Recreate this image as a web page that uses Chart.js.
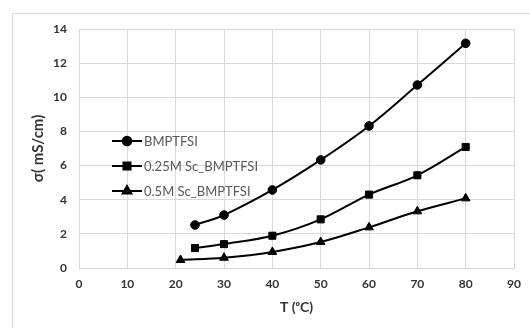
<!DOCTYPE html>
<html>
<head>
<meta charset="utf-8">
<script src="https://cdn.jsdelivr.net/npm/chart.js@4/dist/chart.umd.min.js"></script>
<style>
  html, body { margin: 0; padding: 0; background: #ffffff; }
  #wrap { position: relative; width: 530px; height: 328px; }
  canvas { display: block; }
</style>
</head>
<body>
<div id="wrap"><canvas id="chart" width="530" height="328"></canvas></div>
<script>
// Ionic conductivity versus temperature
const seriesNames = ['BMPTFSI', '0.25M Sc_BMPTFSI', '0.5M Sc_BMPTFSI'];
const tempBMPTFSI = [24, 30, 40, 50, 60, 70, 80];
const tempSc025 = [24, 30, 40, 50, 60, 70, 80];
const tempSc05 = [21, 30, 40, 50, 60, 70, 80];
const sigmaBMPTFSI = [2.52, 3.1, 4.57, 6.33, 8.32, 10.72, 13.16];
const sigmaSc025 = [1.17, 1.4, 1.89, 2.85, 4.3, 5.43, 7.09];
const sigmaSc05 = [0.47, 0.6, 0.94, 1.52, 2.38, 3.32, 4.08];
const xTicks = [0, 10, 20, 30, 40, 50, 60, 70, 80, 90];
const yTicks = [0, 2, 4, 6, 8, 10, 12, 14];
const markerStyles = ['circle', 'rect', 'triangle'];
const markerSizes = [4.3, 5.0, 5.0];

const pairs = (xs, ys) => xs.map((x, i) => ({ x: x, y: ys[i] }));
const seriesData = [
  pairs(tempBMPTFSI, sigmaBMPTFSI),
  pairs(tempSc025, sigmaSc025),
  pairs(tempSc05, sigmaSc05)
];

const gridColor = '#d9d9d9';
const tickColor = '#333333';
const fontFamily = 'Lato, "Liberation Sans", sans-serif';

// Outer frame of the chart area
const framePlugin = {
  id: 'frame',
  beforeDraw(chart) {
    const ctx = chart.ctx;
    ctx.save();
    ctx.strokeStyle = gridColor;
    ctx.lineWidth = 1;
    ctx.strokeRect(12.5, 13.5, 700, 500);
    ctx.restore();
  }
};

// Legend placed inside the plot, with a line sample and marker per series
const insideLegend = {
  id: 'insideLegend',
  afterDraw(chart, args, opts) {
    const ctx = chart.ctx;
    ctx.save();
    chart.data.datasets.forEach((ds, i) => {
      const y = opts.y + i * opts.rowGap;
      const x0 = opts.x;
      const x1 = opts.x + opts.sampleWidth;
      ctx.strokeStyle = ds.borderColor;
      ctx.lineWidth = ds.borderWidth;
      ctx.beginPath();
      ctx.moveTo(x0, y);
      ctx.lineTo(x1, y);
      ctx.stroke();
      Chart.helpers.drawPoint(ctx, {
        pointStyle: ds.pointStyle,
        radius: ds.pointRadius,
        borderWidth: 1,
        rotation: 0
      }, (x0 + x1) / 2, y);
      ctx.fillStyle = ds.pointBackgroundColor;
      ctx.fill();
      ctx.fillStyle = '#595959';
      ctx.font = '13px ' + fontFamily;
      ctx.textBaseline = 'middle';
      ctx.textAlign = 'left';
      ctx.fillText(ds.label, x1 + 2, y + 0.5);
    });
    ctx.restore();
  }
};

new Chart(document.getElementById('chart'), {
  type: 'scatter',
  data: {
    datasets: seriesNames.map((name, i) => ({
      label: name,
      data: seriesData[i],
      showLine: true,
      borderColor: '#000000',
      backgroundColor: '#000000',
      pointBackgroundColor: '#000000',
      pointBorderColor: '#000000',
      borderWidth: 2,
      pointBorderWidth: 1,
      pointStyle: markerStyles[i],
      pointRadius: markerSizes[i],
      pointHoverRadius: markerSizes[i],
      tension: 0.35
    }))
  },
  options: {
    responsive: false,
    animation: false,
    devicePixelRatio: 1,
    layout: { padding: { left: 0, right: 8, top: 29, bottom: 0 } },
    plugins: {
      legend: { display: false },
      tooltip: { enabled: false },
      insideLegend: { x: 112, y: 141, rowGap: 25, sampleWidth: 30 }
    },
    scales: {
      x: {
        type: 'linear',
        min: 0,
        max: 90,
        afterBuildTicks(scale) { scale.ticks = xTicks.map(v => ({ value: v })); },
        afterFit(scale) { scale.height = 60; },
        grid: { color: gridColor, drawTicks: false },
        border: { color: gridColor },
        ticks: {
          padding: 9,
          color: tickColor,
          font: { family: fontFamily, size: 12, weight: 'bold' }
        },
        title: {
          display: true,
          text: 'T (ᵒC)',
          color: tickColor,
          padding: { top: 0, bottom: 12 },
          font: { family: fontFamily, size: 14, weight: 'bold' }
        }
      },
      y: {
        type: 'linear',
        min: 0,
        max: 14,
        afterBuildTicks(scale) { scale.ticks = yTicks.map(v => ({ value: v })); },
        afterFit(scale) { scale.width = 79; },
        grid: { color: gridColor, drawTicks: false },
        border: { color: gridColor },
        ticks: {
          padding: 12,
          color: tickColor,
          font: { family: fontFamily, size: 12, weight: 'bold' }
        },
        title: {
          display: true,
          text: 'σ( mS/cm)',
          color: tickColor,
          padding: { top: 29, bottom: 0 },
          font: { family: fontFamily, size: 15, weight: 'bold' }
        }
      }
    }
  },
  plugins: [framePlugin, insideLegend]
});
</script>
</body>
</html>
